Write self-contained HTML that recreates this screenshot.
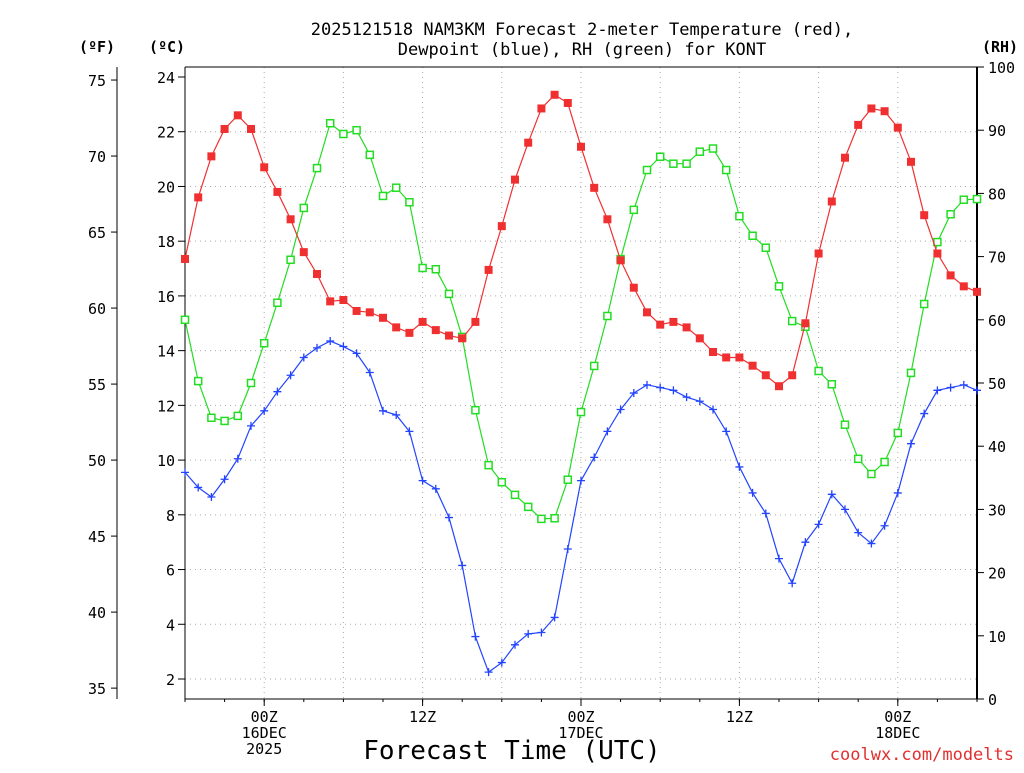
<!DOCTYPE html>
<html><head><meta charset="utf-8">
<style>
body{margin:0;background:#fff;width:1024px;height:768px;overflow:hidden}
svg text{font-family:"DejaVu Sans Mono","Liberation Mono",monospace}
</style></head>
<body>
<svg id="chart" width="1024" height="768" xmlns="http://www.w3.org/2000/svg"></svg>
<script>
const hours = Array.from({length:61},(_,i)=>i); // hours since 18Z 15 Dec
const tempC = [17.35,19.6,21.1,22.1,22.6,22.1,20.7,19.8,18.8,17.6,16.8,15.8,15.85,15.45,15.4,15.2,14.85,14.65,15.05,14.75,14.55,14.45,15.05,16.95,18.55,20.25,21.6,22.85,23.35,23.05,21.45,19.95,18.8,17.3,16.3,15.4,14.95,15.05,14.85,14.45,13.95,13.75,13.75,13.45,13.1,12.7,13.1,15.0,17.55,19.45,21.05,22.25,22.85,22.75,22.15,20.9,18.95,17.55,16.75,16.35,16.15];
const dewC = [9.55,9.0,8.65,9.3,10.05,11.25,11.8,12.5,13.1,13.75,14.1,14.35,14.15,13.9,13.2,11.8,11.65,11.05,9.25,8.95,7.9,6.15,3.55,2.25,2.6,3.25,3.65,3.7,4.25,6.75,9.25,10.1,11.05,11.85,12.45,12.75,12.65,12.55,12.3,12.15,11.85,11.05,9.75,8.8,8.05,6.4,5.5,7.0,7.65,8.75,8.2,7.35,6.95,7.6,8.8,10.6,11.7,12.55,12.65,12.75,12.55];
const rh = [60,50.3,44.5,44,44.8,50,56.3,62.7,69.5,77.7,84,91.1,89.4,90,86.1,79.6,80.9,78.6,68.2,68,64.1,57.3,45.7,37,34.3,32.3,30.4,28.5,28.6,34.7,45.4,52.7,60.6,69.6,77.4,83.7,85.8,84.7,84.7,86.6,87.1,83.7,76.4,73.3,71.4,65.3,59.8,58.9,51.9,49.8,43.4,38,35.6,37.5,42.1,51.6,62.5,72.3,76.7,79,79.1];
const cTicks = [2,4,6,8,10,12,14,16,18,20,22,24];
const fTicks = [35,40,45,50,55,60,65,70,75];
const rhTicks = [0,10,20,30,40,50,60,70,80,90,100];
const timeTickHours = [6,18,30,42,54];
const timeTickLabels = [["00Z","16DEC","2025"],["12Z"],["00Z","17DEC"],["12Z"],["00Z","18DEC"]];

const X0=185,X1=977,YT=67,YB=699;
const xS=h=>X0+(h/60)*(X1-X0);
const yC=c=>679-(c-2)*(679-77)/22;
const yF=f=>yC((f-32)*5/9);
const yR=r=>YB-r*(YB-YT)/100;
const svg=document.getElementById('chart');
const NS='http://www.w3.org/2000/svg';
function mk(tag,attrs,parent){const e=document.createElementNS(NS,tag);for(const k in attrs)e.setAttribute(k,attrs[k]);(parent||svg).appendChild(e);return e;}
function txt(x,y,s,attrs){const e=mk('text',Object.assign({x:x,y:y,'font-size':15,fill:'#000'},attrs||{}));e.textContent=s;return e;}

const grid=mk('g',{});


cTicks.forEach(c=>{if(c===24)return;mk('line',{x1:X0,x2:X1,y1:yC(c),y2:yC(c),stroke:'#aaa','stroke-dasharray':'1,4'},grid);});
for(let h=6;h<60;h+=6){mk('line',{x1:xS(h),x2:xS(h),y1:YT,y2:YB,stroke:'#aaa','stroke-dasharray':'1,4'},grid);}

const frame=mk('g',{});


mk('line',{x1:X0,x2:X1,y1:YT,y2:YT,stroke:'#000'},frame);
mk('line',{x1:X0,x2:X1,y1:YB,y2:YB,stroke:'#000'},frame);
mk('line',{x1:X0,x2:X0,y1:YT,y2:YB,stroke:'#000'},frame);
mk('line',{x1:X1,x2:X1,y1:YT,y2:YB,stroke:'#000','stroke-width':2},frame);
mk('line',{x1:117,x2:117,y1:67,y2:699,stroke:'#000'},frame);

const cAx=mk('g',{});


cTicks.forEach(c=>{mk('line',{x1:X0-7,x2:X0,y1:yC(c),y2:yC(c),stroke:'#000'},cAx);txt(175,yC(c)+6,String(c),{'text-anchor':'end'});});
const fAx=mk('g',{});


fTicks.forEach(f=>{mk('line',{x1:111,x2:117,y1:yF(f),y2:yF(f),stroke:'#000'},fAx);txt(106,yF(f)+6,String(f),{'text-anchor':'end'});});
const rAx=mk('g',{});


rhTicks.forEach(r=>{mk('line',{x1:X1,x2:X1+7,y1:yR(r),y2:yR(r),stroke:'#000'},rAx);txt(988,yR(r)+6,String(r),{});});
timeTickHours.forEach((h,i)=>{mk('line',{x1:xS(h),x2:xS(h),y1:YB,y2:YB+7,stroke:'#000'});
 timeTickLabels[i].forEach((s,j)=>{const t=txt(xS(h),YB+23+j*16,s,{'text-anchor':'middle','font-size':15});});});
for(let h=0;h<=60;h+=3){mk('line',{x1:xS(h),x2:xS(h),y1:YB,y2:YB+3,stroke:'#000'});}

let t;
t=txt(97,52,'(ºF)',{'text-anchor':'middle','font-weight':'bold','font-size':15});
t=txt(167,52,'(ºC)',{'text-anchor':'middle','font-weight':'bold','font-size':15});
t=txt(1000,52,'(RH)',{'text-anchor':'middle','font-weight':'bold','font-size':15});
t=txt(582,35,'2025121518 NAM3KM Forecast 2-meter Temperature (red),',{'text-anchor':'middle','font-size':17});
t=txt(582,55,'Dewpoint (blue), RH (green) for KONT',{'text-anchor':'middle','font-size':17});
t=txt(512,759,'Forecast Time (UTC)',{'text-anchor':'middle','font-size':26});
t=txt(1014,760,'coolwx.com/modelts',{'text-anchor':'end','font-size':17,fill:'#e03030'});

function series(vals,yf,color,name,marker){
 const g=mk('g',{});
 
 
 mk('polyline',{points:vals.map((v,i)=>xS(hours[i])+','+yf(v)).join(' '),fill:'none',stroke:color,'stroke-width':1.2},g);
 vals.forEach((v,i)=>{const x=xS(hours[i]),y=yf(v);let m;
  if(marker==='filled'){m=mk('rect',{x:x-4,y:y-4,width:8,height:8,fill:color},g);}
  else if(marker==='open'){m=mk('rect',{x:x-3.5,y:y-3.5,width:7,height:7,fill:'#fff',stroke:color,'stroke-width':1.5},g);}
  else{m=mk('path',{d:`M${x-4},${y}H${x+4}M${x},${y-4}V${y+4}`,stroke:color,'stroke-width':1.3},g);}
  
  
 });
}
series(rh,yR,'#22dd22','rh-series','open');
series(dewC,yC,'#2244ff','dewpoint-series','plus');
series(tempC,yC,'#f03030','temperature-series','filled');
</script>
</body></html>
